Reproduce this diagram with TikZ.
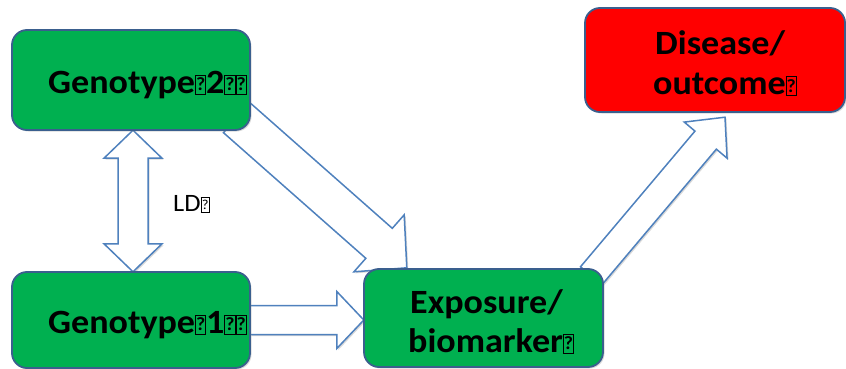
\documentclass[tikz,border=0pt]{standalone}
\usepackage{fontspec}
\usepackage{graphicx}
\setmainfont{Carlito}[FakeStretch=1.06]
\usetikzlibrary{calc,shadows}

\definecolor{boxgreen}{HTML}{00B050}
\definecolor{boxred}{HTML}{FF0000}
\definecolor{boxline}{HTML}{3A5F8E}
\definecolor{arrowline}{HTML}{4F81BD}

% placeholder glyph box used by the labels
\newcommand\tofu{{\setlength\fboxsep{0.5pt}\setlength\fboxrule{1pt}%
  \fbox{\rule{0pt}{0.5em}\makebox[0.24em]{\raisebox{0.06em}{\scalebox{0.55}{?}}}}}}

% single block arrow: tail, tip, half shaft, half head, head length
\newcommand\blockarrow[5]{%
  \coordinate (ba-b) at ($(#2)!#5!(#1)$);
  \draw[arrowbody]
    ($(#1)!#3!90:(#2)$) -- ($(ba-b)!#3!90:(#2)$) -- ($(ba-b)!#4!90:(#2)$) -- (#2)
    -- ($(ba-b)!#4!-90:(#2)$) -- ($(ba-b)!#3!-90:(#2)$) -- ($(#1)!#3!-90:(#2)$) -- cycle;
}
% double block arrow: end, end, half shaft, half head, head length
\newcommand\doubleblockarrow[5]{%
  \coordinate (da-a) at ($(#1)!#5!(#2)$);
  \coordinate (da-b) at ($(#2)!#5!(#1)$);
  \draw[arrowbody]
    (#1) -- ($(da-a)!#4!90:(#2)$) -- ($(da-a)!#3!90:(#2)$) -- ($(da-b)!#3!90:(#2)$)
    -- ($(da-b)!#4!90:(#2)$) -- (#2) -- ($(da-b)!#4!-90:(#2)$) -- ($(da-b)!#3!-90:(#2)$)
    -- ($(da-a)!#3!-90:(#2)$) -- ($(da-a)!#4!-90:(#2)$) -- cycle;
}

\tikzset{
  roundbox/.style={rectangle, rounded corners=15pt, draw=boxline, line width=1.8pt,
    inner sep=0pt,
    drop shadow={shadow xshift=1.5pt, shadow yshift=-1.5pt, opacity=0.3, fill=gray}},
  arrowbody/.style={fill=white, draw=arrowline, line width=1.5pt, line join=miter,
    drop shadow={shadow xshift=1.5pt, shadow yshift=-1.5pt, opacity=0.3, fill=gray}},
  boxtext/.style={anchor=base west, inner sep=0pt, font=\bfseries\fontsize{34}{40}\selectfont},
  ldtext/.style={anchor=base west, inner sep=0pt, font=\fontsize{25}{30}\selectfont},
}

\begin{document}
\begin{tikzpicture}[x=1pt, y=-1pt]
  \useasboundingbox (0,0) rectangle (846,369);

  % box outlines (positions only, filled later so arrows sit behind)
  \path (131,80)    node[minimum width=238pt, minimum height=100pt] (g2) {};
  \path (131,320)   node[minimum width=238pt, minimum height=96pt]  (g1) {};
  \path (483.5,318) node[minimum width=239pt, minimum height=98pt]  (exp) {};
  \path (715,60)    node[minimum width=260pt, minimum height=104pt] (dis) {};

  % arrow end points
  \coordinate (ld-top) at ($(g2.south)+(2,0)$);
  \coordinate (ld-bot) at ($(g1.north)+(2,0)$);
  \coordinate (h-tail) at (g1.east);
  \coordinate (h-tip)  at (exp.west |- g1.east);
  \coordinate (d1-tail) at ($(g2.south east)+(-13.5,-12.5)$);
  \coordinate (d1-tip)  at ($(exp.north west)+(43,-1)$);
  \coordinate (d2-tail) at ($(exp.north east)+(-12,7)$);
  \coordinate (d2-tip)  at ($(dis.south)+(10,5)$);

  % block arrows
  \doubleblockarrow{ld-top}{ld-bot}{15pt}{29pt}{28pt}
  \blockarrow{h-tail}{h-tip}{14.5pt}{28.5pt}{27pt}
  \blockarrow{d1-tail}{d1-tip}{20pt}{38pt}{37pt}
  \blockarrow{d2-tail}{d2-tip}{14pt}{28pt}{30pt}

  % boxes
  \node[roundbox, fill=boxgreen, minimum width=238pt, minimum height=100pt] (g2box) at (g2) {};
  \node[roundbox, fill=boxgreen, minimum width=238pt, minimum height=96pt]  (g1box) at (g1) {};
  \node[roundbox, fill=boxgreen, minimum width=239pt, minimum height=98pt]  (expbox) at (exp) {};
  \node[roundbox, fill=boxred,   minimum width=260pt, minimum height=104pt] (disbox) at (dis) {};

  % labels
  \node[boxtext] (g2text) at (48,93)  {Genotype\tofu 2\tofu\tofu};
  \node[boxtext] (g1text) at (48,333) {Genotype\tofu 1\tofu\tofu};
  \node[boxtext] (exptext1) at (410,313) {Exposure/};
  \node[boxtext] (exptext2) at (408,352) {biomarker\tofu};
  \node[boxtext] (distext1) at (655,55) {Disease/};
  \node[boxtext] (distext2) at (653,95) {outcome\tofu};
  \node[ldtext]  (ldtext) at (173,211) {LD\tofu};
\end{tikzpicture}
\end{document}
